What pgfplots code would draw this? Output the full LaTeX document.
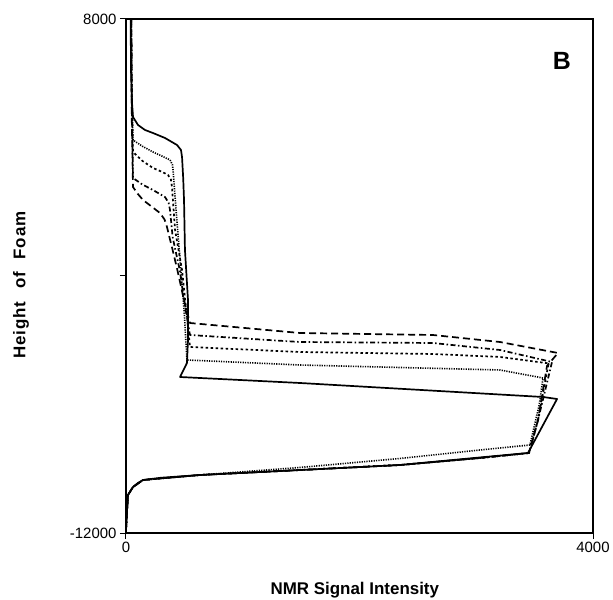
\documentclass[border=0pt]{standalone}
\usepackage{fontspec}
\setmainfont{Liberation Sans}
\newfontfamily\spacedfont[LetterSpace=5,WordSpace=2.3]{Liberation Sans}
\usepackage{pgfplots}
\pgfplotsset{compat=1.18}
\begin{document}
\begin{tikzpicture}
\begin{axis}[
  scale only axis, width=467bp, height=514bp,
  xmin=0, xmax=4000, ymin=-12000, ymax=8000,
  scaled ticks=false,
  xtick={0,4000}, xticklabels={0,4000},
  ytick={-12000,-2000,8000}, yticklabels={-12000,{},8000},
  tick pos=left, tick align=outside, major tick length=6bp,
  every tick/.style={line width=1bp, black},
  axis line style={line width=1.4bp},
  tick label style={font=\fontsize{15}{17}\selectfont},
  xlabel={NMR Signal Intensity},
  ylabel={Height of Foam},
  xlabel style={font=\bfseries\fontsize{17}{19}\selectfont, at={(axis description cs:0.49,-0.1109)}, anchor=center},
  ylabel style={font=\spacedfont\bfseries\fontsize{17}{19}\selectfont, at={(axis description cs:-0.2248,0.4825)}, anchor=center},
  every axis plot/.append style={line width=1.7bp, black, no markers, line join=round},
]
% solid
\addplot[solid] coordinates {(40,8000)(43,6000)(50,4848)(60,4187)(103,3875)(163,3681)(231,3564)(334,3370)(437,3097)(471,2903)(480,2630)(490,1800)(497,957)(505,-988)(531,-2934)(531,-4500)(522,-5385)(463,-5930)(1490,-6163)(3572,-6708)(3692,-6786)(3443,-8887)(3032,-9060)(2347,-9354)(1490,-9550)(634,-9743)(300,-9850)(146,-9938)(103,-10050)(60,-10210)(17,-10521)(8,-11200)(0,-11883)};
% fine dotted
\addplot[line width=1.6bp, dash pattern=on 1.2bp off 1.2bp] coordinates {(45,8000)(50,5000)(60,3292)(140,3050)(231,2825)(320,2640)(377,2514)(398,2330)(403,2125)(430,500)(470,-1767)(500,-3500)(522,-5268)(1490,-5463)(3203,-5657)(3572,-5969)(3540,-7000)(3460,-8576)(3032,-8770)(2347,-9100)(1490,-9450)(634,-9743)(146,-9938)(60,-10210)(17,-10521)(0,-11883)};
% coarse dotted
\addplot[dash pattern=on 2.5bp off 2.5bp] coordinates {(45,8000)(50,5000)(60,2825)(140,2480)(231,2202)(310,2050)(360,1930)(385,1750)(394,1463)(420,-200)(480,-1767)(520,-3500)(548,-4763)(1490,-4957)(2630,-5035)(3203,-5150)(3620,-5400)(3529,-7603)(3452,-8887)(3032,-9082)(2347,-9354)(1490,-9550)(634,-9743)(146,-9938)(60,-10210)(17,-10521)(0,-11883)};
% dash-dot
\addplot[dash pattern=on 5bp off 2.5bp on 1.5bp off 2.5bp] coordinates {(45,8000)(50,4500)(60,1813)(140,1560)(231,1346)(334,1074)(365,850)(377,568)(400,-500)(460,-1767)(510,-3300)(548,-4296)(1490,-4568)(2630,-4607)(3203,-4879)(3649,-5346)(3529,-7603)(3452,-8887)(3032,-9082)(2347,-9354)(1490,-9550)(634,-9743)(146,-9938)(60,-10210)(17,-10521)(0,-11883)};
% long dashed
\addplot[dash pattern=on 7bp off 4bp] coordinates {(45,8000)(50,4000)(60,1463)(100,1200)(146,957)(220,700)(291,451)(330,200)(351,-93)(400,-1000)(440,-1767)(500,-3000)(548,-3829)(1490,-4218)(2630,-4296)(3203,-4568)(3700,-4996)(3606,-5500)(3529,-7603)(3452,-8887)(3032,-9082)(2347,-9354)(1490,-9550)(634,-9743)(146,-9938)(60,-10210)(17,-10521)(0,-11883)};
\node[font=\bfseries\fontsize{25}{25}\selectfont] at (axis cs:3734,6366) {B};
\end{axis}
\pgfresetboundingbox
\useasboundingbox (-126bp,-67bp) rectangle (487bp,533bp);
\end{tikzpicture}
\end{document}
